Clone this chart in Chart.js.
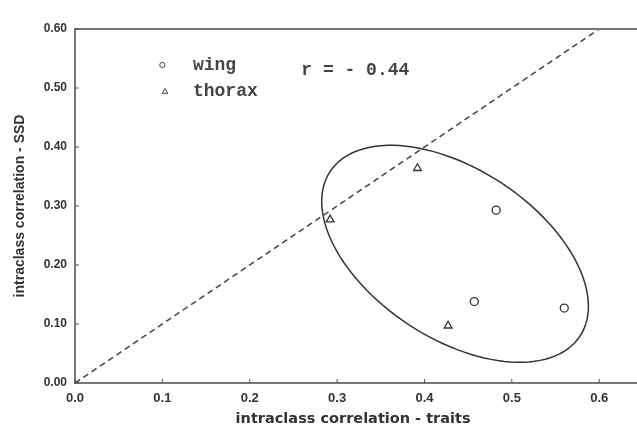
<!DOCTYPE html>
<html>
<head>
<meta charset="utf-8">
<script src="https://cdn.jsdelivr.net/npm/chart.js@4/dist/chart.umd.min.js"></script>
<style>
  html, body { margin: 0; padding: 0; background: #fff; }
  #wrap { width: 637px; height: 432px; }
</style>
</head>
<body>
<div id="wrap"><canvas id="myChart"></canvas></div>
<script>
// values
const wingX = [0.482, 0.457, 0.560];
const wingY = [0.293, 0.138, 0.127];
const thoraxX = [0.292, 0.392, 0.427];
const thoraxY = [0.277, 0.364, 0.097];
const diagX = [0, 0.6];
const diagY = [0, 0.6];
const xTicks = [0, 0.1, 0.2, 0.3, 0.4, 0.5, 0.6];
const yTicks = [0, 0.1, 0.2, 0.3, 0.4, 0.5, 0.6];
// ellipse: centre and two conjugate semi-axes, in data units
const ellipseCentre = [0.435, 0.219];
const ellipseAxisA = [0.1431, -0.1393];
const ellipseAxisB = [-0.0531, -0.1200];
const corrText = "r = - 0.44";
const seriesNames = ["wing", "thorax"];

const pts = (xs, ys) => xs.map((x, i) => ({ x: x, y: ys[i] }));
const ink = '#333';

function drawMarker(ctx, style, x, y, r) {
  ctx.beginPath();
  if (style === 'circle') {
    ctx.arc(x, y, r, 0, Math.PI * 2);
  } else {
    ctx.moveTo(x, y - r);
    ctx.lineTo(x + r * 0.95, y + r * 0.6);
    ctx.lineTo(x - r * 0.95, y + r * 0.6);
    ctx.closePath();
  }
  ctx.stroke();
}

const extras = {
  id: 'extras',
  afterDatasetsDraw(chart) {
    const { ctx, chartArea: a, scales: { x, y } } = chart;
    ctx.save();
    // top frame line, and the x axis running on to the edge (figure is cropped there)
    ctx.strokeStyle = '#777';
    ctx.lineWidth = 2;
    ctx.beginPath();
    ctx.moveTo(a.left - 1, a.top);
    ctx.lineTo(chart.width, a.top);
    ctx.moveTo(a.right - 1, a.bottom);
    ctx.lineTo(chart.width, a.bottom);
    ctx.stroke();
    // inward tick marks
    ctx.lineWidth = 1;
    ctx.strokeStyle = '#555';
    ctx.beginPath();
    xTicks.forEach(v => {
      const px = x.getPixelForValue(v);
      ctx.moveTo(px, a.bottom);
      ctx.lineTo(px, a.bottom - 4);
    });
    yTicks.forEach(v => {
      const py = y.getPixelForValue(v);
      ctx.moveTo(a.left, py);
      ctx.lineTo(a.left + 4, py);
    });
    ctx.stroke();
    // ellipse
    ctx.strokeStyle = ink;
    ctx.lineWidth = 1.5;
    ctx.beginPath();
    for (let i = 0; i <= 120; i++) {
      const t = i / 120 * Math.PI * 2;
      const ex = ellipseCentre[0] + ellipseAxisA[0] * Math.cos(t) + ellipseAxisB[0] * Math.sin(t);
      const ey = ellipseCentre[1] + ellipseAxisA[1] * Math.cos(t) + ellipseAxisB[1] * Math.sin(t);
      const px = x.getPixelForValue(ex), py = y.getPixelForValue(ey);
      if (i === 0) ctx.moveTo(px, py); else ctx.lineTo(px, py);
    }
    ctx.closePath();
    ctx.stroke();
    // legend + r text
    ctx.lineWidth = 1;
    ctx.strokeStyle = '#444';
    drawMarker(ctx, 'circle', x.getPixelForValue(0.100), y.getPixelForValue(0.539), 2.6);
    drawMarker(ctx, 'triangle', x.getPixelForValue(0.103), y.getPixelForValue(0.494), 3);
    ctx.fillStyle = '#444';
    ctx.font = 'bold 18px "Liberation Mono"';
    ctx.textBaseline = 'middle';
    ctx.textAlign = 'left';
    ctx.fillText(seriesNames[0], x.getPixelForValue(0.135), y.getPixelForValue(0.539));
    ctx.fillText(seriesNames[1], x.getPixelForValue(0.135), y.getPixelForValue(0.494));
    ctx.fillText(corrText, x.getPixelForValue(0.259), y.getPixelForValue(0.529));
    ctx.restore();
  }
};

const myChart = new Chart(document.getElementById('myChart'), {
  type: 'scatter',
  data: {
    datasets: [
      {
        label: seriesNames[0],
        data: pts(wingX, wingY),
        pointStyle: 'circle',
        pointRadius: 4,
        borderColor: ink,
        backgroundColor: 'rgba(0,0,0,0)',
        borderWidth: 1.3
      },
      {
        label: seriesNames[1],
        data: pts(thoraxX, thoraxY),
        pointStyle: 'triangle',
        pointRadius: 4.5,
        borderColor: ink,
        backgroundColor: 'rgba(0,0,0,0)',
        borderWidth: 1.3
      },
      {
        label: 'diagonal',
        data: pts(diagX, diagY),
        showLine: true,
        pointRadius: 0,
        borderColor: '#444',
        borderWidth: 1.5,
        borderDash: [6, 4]
      }
    ]
  },
  options: {
    responsive: true,
    maintainAspectRatio: false,
    animation: false,
    layout: { padding: { top: 29, left: 0, right: 0, bottom: 0 } },
    plugins: {
      legend: { display: false },
      tooltip: { enabled: false }
    },
    scales: {
      x: {
        type: 'linear',
        min: 0,
        max: 0.6366,
        afterBuildTicks: s => { s.ticks = xTicks.map(v => ({ value: v })); },
        afterFit: s => { s.height = 49; s.paddingLeft = 0; s.paddingRight = 0; },
        grid: { display: false, drawTicks: false },
        border: { display: true, color: '#777', width: 2 },
        ticks: {
          padding: 8,
          color: ink,
          font: { family: '"Liberation Sans"', size: 13, weight: 'bold' },
          callback: v => v.toFixed(1)
        },
        title: {
          display: true,
          text: 'intraclass correlation - traits',
          color: ink,
          font: { family: '"DejaVu Sans"', size: 14.5, weight: 'bold' },
          padding: { top: 0, bottom: 4 }
        }
      },
      y: {
        type: 'linear',
        min: 0,
        max: 0.6,
        afterBuildTicks: s => { s.ticks = yTicks.map(v => ({ value: v })); },
        afterFit: s => { s.width = 75; s.paddingTop = 0; s.paddingBottom = 0; },
        grid: { display: false, drawTicks: false },
        border: { display: true, color: '#777', width: 2 },
        ticks: {
          padding: 8,
          color: ink,
          font: { family: '"Liberation Sans"', size: 12, weight: 'bold' },
          callback: v => v.toFixed(2)
        },
        title: {
          display: true,
          text: 'intraclass correlation - SSD',
          color: ink,
          font: { family: '"Liberation Sans"', size: 14, weight: 'bold' },
          padding: { top: 12, bottom: 0 }
        }
      }
    }
  },
  plugins: [extras]
});
</script>
</body>
</html>
